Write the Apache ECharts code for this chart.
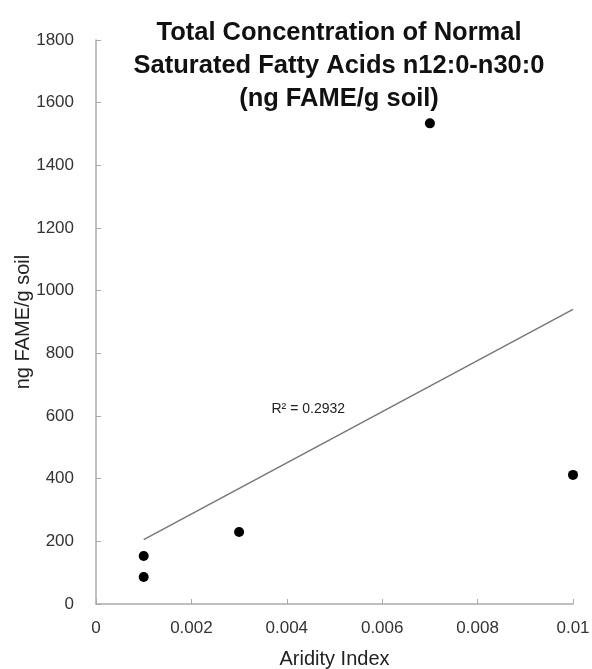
<!DOCTYPE html>
<html>
<head>
<meta charset="utf-8">
<script src="https://cdn.jsdelivr.net/npm/echarts@6/dist/echarts.min.js"></script>
<style>html,body{margin:0;padding:0;background:#fff}#c{width:592px;height:669px}</style>
</head>
<body>
<div id="c"></div>
<script>
const aridityIndex = [0.001, 0.001, 0.003, 0.007, 0.010];
const fameConc = [86, 153, 230, 1534, 412];
const xTicks = [0, 0.002, 0.004, 0.006, 0.008, 0.01];
const yTicks = [0, 200, 400, 600, 800, 1000, 1200, 1400, 1600, 1800];
const titleLines = ['Total Concentration of Normal', 'Saturated Fatty Acids n12:0-n30:0', '(ng FAME/g soil)'];
const r2Text = 'R\u00B2 = 0.2932';

// linear regression from the data
const n = aridityIndex.length;
const mx = aridityIndex.reduce((a, b) => a + b, 0) / n;
const my = fameConc.reduce((a, b) => a + b, 0) / n;
let sxy = 0, sxx = 0;
for (let i = 0; i < n; i++) { sxy += (aridityIndex[i] - mx) * (fameConc[i] - my); sxx += (aridityIndex[i] - mx) ** 2; }
const slope = sxy / sxx, icpt = my - slope * mx;
const xMin = Math.min(...aridityIndex), xMax = Math.max(...aridityIndex);
const trend = [[xMin, icpt + slope * xMin], [xMax, icpt + slope * xMax]];

const chart = echarts.init(document.getElementById('c'));
const font = 'Liberation Sans, Arial, sans-serif';
chart.setOption({
  animation: false,
  title: {
    text: titleLines.join('\n'),
    left: 334, top: 11, textAlign: 'center',
    textStyle: { fontFamily: font, fontSize: 25.5, fontWeight: 'bold', color: '#111', lineHeight: 33 }
  },
  grid: { left: 96, right: 19, top: 40, bottom: 65, containLabel: false, outerBoundsMode: 'none' },
  xAxis: {
    type: 'value', min: 0, max: 0.01, interval: 0.002,
    name: 'Aridity Index', nameLocation: 'middle', nameGap: 45, nameMoveOverlap: false,
    nameTextStyle: { fontFamily: font, fontSize: 20, color: '#222' },
    axisLine: { lineStyle: { color: '#aaa', width: 1.5 } },
    axisTick: { inside: true, length: 5, lineStyle: { color: '#aaa' } },
    splitLine: { show: false },
    axisLabel: { fontFamily: font, fontSize: 17, color: '#333', margin: 16,
      formatter: v => xTicks.find(t => Math.abs(t - v) < 1e-9) !== undefined ? String(+v.toFixed(3)) : '' }
  },
  yAxis: {
    type: 'value', min: 0, max: 1800, interval: 200,
    name: 'ng FAME/g soil', nameLocation: 'middle', nameGap: 63, nameMoveOverlap: false,
    nameTextStyle: { fontFamily: font, fontSize: 20, color: '#222' },
    axisLine: { show: true, lineStyle: { color: '#aaa', width: 1.5 } },
    axisTick: { show: true, inside: true, length: 5, lineStyle: { color: '#aaa' } },
    splitLine: { show: false },
    axisLabel: { fontFamily: font, fontSize: 17, color: '#333', margin: 22,
      formatter: v => yTicks.includes(v) ? String(v) : '' }
  },
  series: [
    {
      type: 'line', data: trend, symbol: 'none',
      lineStyle: { color: '#777', width: 1.5 }, z: 1,
      markPoint: {
        symbol: 'circle', symbolSize: 0,
        data: [{ coord: [0.00445, 622] }],
        label: { show: true, formatter: r2Text, fontFamily: font, fontSize: 14, color: '#222', position: 'inside' }
      }
    },
    {
      type: 'scatter', data: aridityIndex.map((x, i) => [x, fameConc[i]]),
      symbol: 'circle', symbolSize: 10, itemStyle: { color: '#000', opacity: 1 }, z: 3
    }
  ]
});
</script>
</body>
</html>
